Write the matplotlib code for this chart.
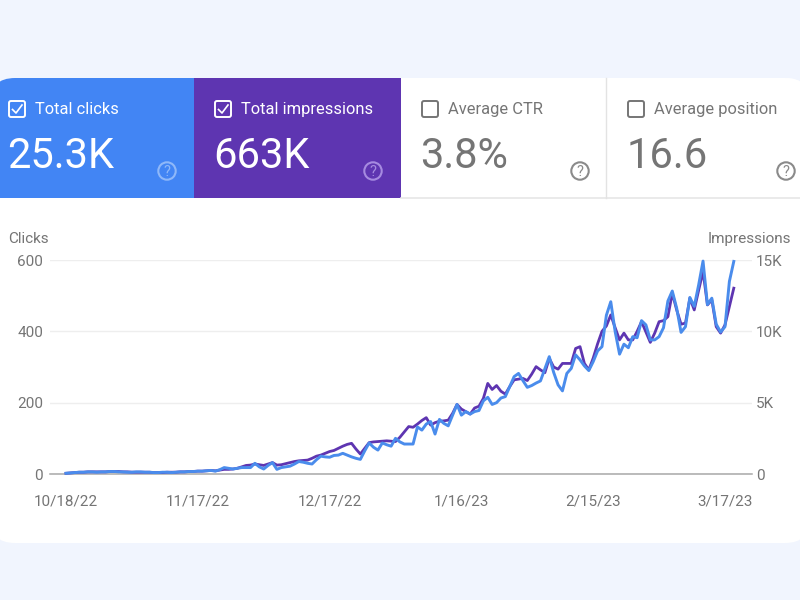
import numpy as np
import matplotlib
matplotlib.use("Agg")
import matplotlib.pyplot as plt
from matplotlib.patches import FancyBboxPatch, Rectangle, Circle

plt.rcParams['font.family'] = ['Roboto', 'DejaVu Sans']

clicks = [
    2, 3, 4, 5, 5, 6, 6, 5, 6, 6,
    7, 7, 6, 6, 5, 5, 6, 6, 5, 5,
    4, 4, 5, 5, 4, 5, 6, 6, 7, 7,
    8, 8, 9, 10, 8, 12, 18, 16, 14, 16,
    18, 18, 18, 30, 20, 14, 24, 32, 13, 18,
    20, 22, 28, 35, 33, 30, 28, 40, 50, 48,
    47, 52, 53, 58, 53, 48, 44, 41, 65, 87,
    75, 67, 87, 82, 78, 100, 90, 84, 84, 84,
    132, 123, 140, 147, 112, 153, 142, 135, 165, 195,
    165, 175, 168, 175, 178, 205, 215, 195, 200, 213,
    217, 245, 273, 282, 262, 243, 248, 255, 261, 295,
    329, 285, 250, 233, 282, 296, 334, 320, 303, 290,
    315, 345, 357, 445, 483, 399, 336, 364, 354, 385,
    382, 430, 418, 376, 376, 385, 410, 485, 513, 465,
    397, 413, 495, 470, 530, 597, 475, 493, 420, 398,
    413, 540, 596,
]
impressions = [
    50, 75, 100, 125, 125, 150, 150, 150, 150, 150,
    175, 175, 175, 150, 150, 125, 125, 125, 125, 125,
    100, 100, 100, 125, 125, 125, 150, 150, 175, 175,
    200, 200, 225, 250, 225, 275, 325, 325, 350, 400,
    500, 600, 625, 700, 650, 600, 700, 800, 625, 650,
    725, 800, 875, 925, 950, 975, 1100, 1250, 1325, 1450,
    1575, 1650, 1800, 1950, 2075, 2150, 1750, 1400, 1800, 2200,
    2250, 2275, 2300, 2325, 2300, 2275, 2575, 2950, 3325, 3275,
    3500, 3750, 3950, 3425, 3600, 3700, 3725, 3775, 4250, 4875,
    4550, 4375, 4200, 4625, 4750, 5300, 6350, 5925, 6200, 5800,
    5600, 6125, 6600, 6650, 6700, 6550, 7000, 7525, 7300, 7100,
    8100, 7500, 7350, 7750, 7750, 7750, 8800, 8925, 7750, 7300,
    8125, 9125, 10000, 10375, 11150, 10250, 9400, 9875, 9400, 9400,
    10000, 10675, 9950, 9225, 9875, 10675, 10750, 11025, 12675, 11500,
    10500, 10575, 12325, 11500, 12875, 14200, 11850, 12200, 10325, 9875,
    10450, 11750, 13025,
]
days = np.arange(len(clicks))

date_ticks = [0, 30, 60, 90, 120, 150]
date_labels = ['10/18/22', '11/17/22', '12/17/22', '1/16/23', '2/15/23', '3/17/23']
click_ticks = [0, 200, 400, 600]
impression_ticks = [0, 5000, 10000, 15000]
impression_labels = ['0', '5K', '10K', '15K']

metric_names = ['Total clicks', 'Total impressions', 'Average CTR', 'Average position']
metric_values = ['25.3K', '663K', '3.8%', '16.6']
metric_checked = [True, True, False, False]

BG = '#f1f5fe'
BLUE = '#4285f4'
PURPLE = '#5e35b1'
GRAY = '#757575'

fig = plt.figure(figsize=(8, 6), dpi=100, facecolor=BG)

# page furniture in pixel coordinates
ui = fig.add_axes([0, 0, 1, 1], zorder=0)
ui.set_xlim(0, 800)
ui.set_ylim(600, 0)
ui.axis('off')

card = FancyBboxPatch((-10, 78), 820, 465, boxstyle='round,pad=0,rounding_size=25',
                      fc='white', ec='none')
ui.add_patch(card)

tiles = [(0, 194, 9, 167, BLUE, 'white', '#8fb8f9'),
         (194, 207, 215, 373, PURPLE, 'white', '#a68be0'),
         (401, 205, 422, 580, 'white', '#757575', '#8a8a8a'),
         (606, 204, 628, 786, 'white', '#757575', '#8a8a8a')]
for (x0, w, bx, hx, fc, tc, hc), name, value, checked in zip(tiles, metric_names, metric_values, metric_checked):
    r = Rectangle((x0, 78), w, 120, fc=fc, ec='none')
    ui.add_patch(r)
    r.set_clip_path(card)
    # checkbox
    box = FancyBboxPatch((bx, 101), 16, 16, boxstyle='round,pad=0,rounding_size=2',
                         fc='none', ec=tc, lw=1.4)
    ui.add_patch(box)
    if checked:
        ui.plot([bx + 3.5, bx + 7, bx + 13], [109.5, 113, 105], color=tc, lw=1.2)
    ui.text(bx + 26, 109.7, name, color=tc, fontsize=11.9, va='center', ha='left')
    ui.text(bx - 1.5, 168, value, color=tc, fontsize=30, va='baseline', ha='left')
    # help icon
    ui.add_patch(Circle((hx, 171), 8.7, fc='none', ec=hc, lw=1.5))
    ui.text(hx, 171.5, '?', color=hc, fontsize=10.5, ha='center', va='center')

ui.plot([401, 800], [198, 198], color='#e6e6e6', lw=1.2)
ui.plot([606, 606], [78, 198], color='#e3e3e3', lw=1.0)

ui.text(8.5, 239, 'Clicks', color=GRAY, fontsize=11, ha='left', va='center')
ui.text(791, 239, 'Impressions', color=GRAY, fontsize=11, ha='right', va='center')

# chart: x maps day 0 to px 66 and day 150 to px 725
px_per_day = (725 - 66) / 150
ax = fig.add_axes([50 / 800, 1 - 474 / 600, 702 / 800, 214 / 600], zorder=1)
ax.patch.set_alpha(0)
ax.set_xlim((50 - 66) / px_per_day, (752 - 66) / px_per_day)
ax.set_ylim(0, 600)
ax.set_yticks(click_ticks)
ax.set_xticks(date_ticks)
ax.set_xticklabels(date_labels)
ax.grid(axis='y', color='#eeeeee', lw=1)
ax.set_axisbelow(True)
for s in ['top', 'right', 'left']:
    ax.spines[s].set_visible(False)
ax.spines['bottom'].set_color('#a8a8a8')
ax.spines['bottom'].set_linewidth(1.1)
ax.tick_params(axis='x', length=0, pad=15, labelsize=11, colors=GRAY)
ax.tick_params(axis='y', length=0, pad=5, labelsize=11, colors=GRAY)

ax2 = ax.twinx()
ax2.patch.set_alpha(0)
ax2.set_ylim(0, 15000)
ax2.set_yticks(impression_ticks)
ax2.set_yticklabels(impression_labels)
ax2.tick_params(axis='y', length=0, pad=3, labelsize=11, colors=GRAY)
for s in ax2.spines.values():
    s.set_visible(False)

ax2.plot(days, impressions, color=PURPLE, lw=2.0, solid_joinstyle='round', clip_on=False, zorder=2)
ax3 = ax.twinx()
ax3.patch.set_alpha(0)
ax3.set_ylim(0, 600)
ax3.axis('off')
ax3.plot(days, clicks, color='#4a8cec', lw=2.1, solid_joinstyle='round', clip_on=False, zorder=3)

fig.savefig('out.png', dpi=100, facecolor=BG)
